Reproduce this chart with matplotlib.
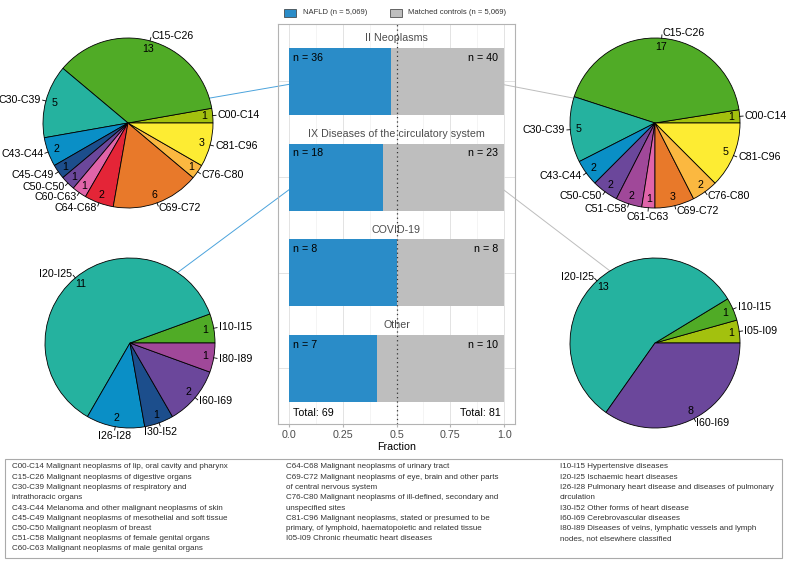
import numpy as np
import matplotlib
matplotlib.use('Agg')
import matplotlib.pyplot as plt
from matplotlib.patches import Rectangle, ConnectionPatch

plt.rcParams['font.family'] = ['Liberation Sans', 'DejaVu Sans']

# --- data ---
categories = ["II Neoplasms", "IX Diseases of the circulatory system", "COVID-19", "Other"]
nafld_n = [36, 18, 8, 7]
control_n = [40, 23, 8, 10]

neo_nafld_codes = ["C00-C14", "C15-C26", "C30-C39", "C43-C44", "C45-C49", "C50-C50",
                   "C60-C63", "C64-C68", "C69-C72", "C76-C80", "C81-C96"]
neo_nafld_counts = [1, 13, 5, 2, 1, 1, 1, 2, 6, 1, 3]
neo_ctrl_codes = ["C00-C14", "C15-C26", "C30-C39", "C43-C44", "C50-C50", "C51-C58",
                  "C61-C63", "C69-C72", "C76-C80", "C81-C96"]
neo_ctrl_counts = [1, 17, 5, 2, 2, 2, 1, 3, 2, 5]
circ_nafld_codes = ["I10-I15", "I20-I25", "I26-I28", "I30-I52", "I60-I69", "I80-I89"]
circ_nafld_counts = [1, 11, 2, 1, 2, 1]
circ_ctrl_codes = ["I05-I09", "I10-I15", "I20-I25", "I60-I69"]
circ_ctrl_counts = [1, 1, 13, 8]

legend_col1 = ["C00-C14 Malignant neoplasms of lip, oral cavity and pharynx",
               "C15-C26 Malignant neoplasms of digestive organs",
               "C30-C39 Malignant neoplasms of respiratory and",
               "intrathoracic organs",
               "C43-C44 Melanoma and other malignant neoplasms of skin",
               "C45-C49 Malignant neoplasms of mesothelial and soft tissue",
               "C50-C50 Malignant neoplasm of breast",
               "C51-C58 Malignant neoplasms of female genital organs",
               "C60-C63 Malignant neoplasms of male genital organs"]
legend_col2 = ["C64-C68 Malignant neoplasms of urinary tract",
               "C69-C72 Malignant neoplasms of eye, brain and other parts",
               "of central nervous system",
               "C76-C80 Malignant neoplasms of ill-defined, secondary and",
               "unspecified sites",
               "C81-C96 Malignant neoplasms, stated or presumed to be",
               "primary, of lymphoid, haematopoietic and related tissue",
               "I05-I09 Chronic rheumatic heart diseases"]
legend_col3 = ["I10-I15 Hypertensive diseases",
               "I20-I25 Ischaemic heart diseases",
               "I26-I28 Pulmonary heart disease and diseases of pulmonary",
               "circulation",
               "I30-I52 Other forms of heart disease",
               "I60-I69 Cerebrovascular diseases",
               "I80-I89 Diseases of veins, lymphatic vessels and lymph",
               "nodes, not elsewhere classified"]

# --- styles ---
pal = {"C00-C14": "#A3C10E", "C15-C26": "#50AB26", "C30-C39": "#25B29F", "C43-C44": "#0A8FC6",
       "C45-C49": "#1C4E8C", "C50-C50": "#6B479B", "C51-C58": "#A04899", "C60-C63": "#E064A9",
       "C61-C63": "#E064A9", "C64-C68": "#E42537", "C69-C72": "#E8792A", "C76-C80": "#FBB840",
       "C81-C96": "#FDEC33", "I05-I09": "#A3C10E", "I10-I15": "#50AB26", "I20-I25": "#25B29F",
       "I26-I28": "#0A8FC6", "I30-I52": "#1C4E8C", "I60-I69": "#6B479B", "I80-I89": "#A04899"}
BLUE = "#2A8CC8"
GREY = "#BEBEBE"
W, H = 788, 563
R = 85

fig = plt.figure(figsize=(W / 100, H / 100), dpi=100)


def px_axes(x0, y0, x1, y1, **kw):
    return fig.add_axes([x0 / W, 1 - y1 / H, (x1 - x0) / W, (y1 - y0) / H], **kw)


# overlay for legends / boxes
ov = px_axes(0, 0, W, H)
ov.set_xlim(0, W); ov.set_ylim(H, 0); ov.axis('off')

ov.add_patch(Rectangle((284, 9), 12, 8, facecolor=BLUE, edgecolor='#333333', lw=0.5))
ov.text(303, 13, "NAFLD (n = 5,069)", fontsize=5.5, va='center', color='#333333')
ov.add_patch(Rectangle((390, 9), 12, 8, facecolor=GREY, edgecolor='#333333', lw=0.5))
ov.text(408, 13, "Matched controls (n = 5,069)", fontsize=5.5, va='center', color='#333333')

ov.add_patch(Rectangle((5, 459), 777, 99, facecolor='none', edgecolor='#AAAAAA', lw=0.8))
for col_x, lines in [(12, legend_col1), (286, legend_col2), (560, legend_col3)]:
    for k, line in enumerate(lines):
        ov.text(col_x, 467 + k * 10.25, line, fontsize=5.8, va='center', color='#333333')

# --- central bar panel ---
ax = px_axes(278, 24, 515, 424)
idx = np.arange(len(categories))
frac = np.array(nafld_n) / (np.array(nafld_n) + np.array(control_n))
ax.barh(idx, frac, height=0.7, color=BLUE, zorder=3)
ax.barh(idx, 1 - frac, left=frac, height=0.7, color=GREY, zorder=3)
ax.axvline(0.5, color='#333333', ls=(0, (1, 2.5)), lw=0.9, zorder=4)
ax.set_xlim(-0.05, 1.05)
ax.set_ylim(3.58, -0.60)
ax.set_xticks([0, 0.25, 0.5, 0.75, 1.0])
ax.set_xticklabels(["0.0", "0.25", "0.5", "0.75", "1.0"])
ax.set_xticks([0.125, 0.375, 0.625, 0.875], minor=True)
ax.set_yticks(idx)
ax.set_yticklabels([])
ax.tick_params(axis='y', length=0)
ax.tick_params(axis='x', which='major', length=2.5, color='#B3B3B3', labelsize=7.7,
               labelcolor='#4D4D4D', pad=2)
ax.tick_params(axis='x', which='minor', length=0)
ax.grid(True, which='major', color='#DEDEDE', lw=0.6, zorder=0)
ax.grid(True, which='minor', axis='x', color='#EDEDED', lw=0.4, zorder=0)
for s in ax.spines.values():
    s.set_color('#B3B3B3'); s.set_linewidth(0.8)
ax.set_xlabel("Fraction", fontsize=7.7, labelpad=1)

for i, cat in enumerate(categories):
    ax.text(0.5, i - 0.45, cat, ha='center', va='center', fontsize=7.7, color='#4D4D4D')
    ax.text(0.02, i - 0.30, f"n = {nafld_n[i]}", ha='left', va='top', fontsize=7.7, zorder=5)
    ax.text(0.97, i - 0.30, f"n = {control_n[i]}", ha='right', va='top', fontsize=7.7, zorder=5)
ax.text(0.02, 3.47, f"Total: {sum(nafld_n)}", ha='left', va='center', fontsize=7.7)
ax.text(0.985, 3.47, f"Total: {sum(control_n)}", ha='right', va='center', fontsize=7.7)

# --- pies ---
centre_ov = {"C61-C63", "I26-I28", "I30-I52"}


def draw_pie(cx, cy, codes, counts):
    pa = px_axes(cx - R, cy - R, cx + R, cy + R)
    pa.pie(counts, colors=[pal[c] for c in codes], startangle=0, counterclock=True, radius=1,
           wedgeprops=dict(edgecolor='black', linewidth=0.6))
    pa.set_xlim(-1, 1); pa.set_ylim(-1, 1); pa.axis('off')
    cum = np.cumsum(counts)
    tot = cum[-1]
    for code, n, c in zip(codes, counts, cum):
        th = np.deg2rad((c - n / 2) / tot * 360)
        x, y = np.cos(th), np.sin(th)
        pa.text(0.9 * x, 0.9 * y, str(n), ha='center', va='center', fontsize=7.7)
        pa.plot([x, 1.04 * x], [y, 1.04 * y], color='black', lw=0.6, clip_on=False)
        if code in centre_ov:
            pa.text(1.05 * x, 1.05 * y, code, ha='center', va='top', fontsize=7.7, clip_on=False)
        else:
            pa.text(1.06 * x, 1.06 * y, code, ha='left' if x >= 0 else 'right', va='center',
                    fontsize=7.7, clip_on=False)
    return pa


p_tl = draw_pie(128, 123, neo_nafld_codes, neo_nafld_counts)
p_tr = draw_pie(655, 123, neo_ctrl_codes, neo_ctrl_counts)
p_bl = draw_pie(130, 343, circ_nafld_codes, circ_nafld_counts)
p_br = draw_pie(655, 343, circ_ctrl_codes, circ_ctrl_counts)

# connectors (drawn under the bars)
for pa, ang, bx, row, col in [(p_tl, 17, 0.08, 0, '#4BA3DC'), (p_bl, 56, 0.08, 1, '#4BA3DC'),
                              (p_tr, 163, 0.92, 0, '#BDBDBD'), (p_br, 122, 0.92, 1, '#BDBDBD')]:
    a = np.deg2rad(ang)
    con = ConnectionPatch(xyA=(bx, row), coordsA=ax.transData,
                          xyB=(np.cos(a), np.sin(a)), coordsB=pa.transData,
                          color=col, lw=0.7, zorder=2)
    con.set_clip_on(False)
    ax.add_artist(con)

fig.savefig("out.png", dpi=100)
